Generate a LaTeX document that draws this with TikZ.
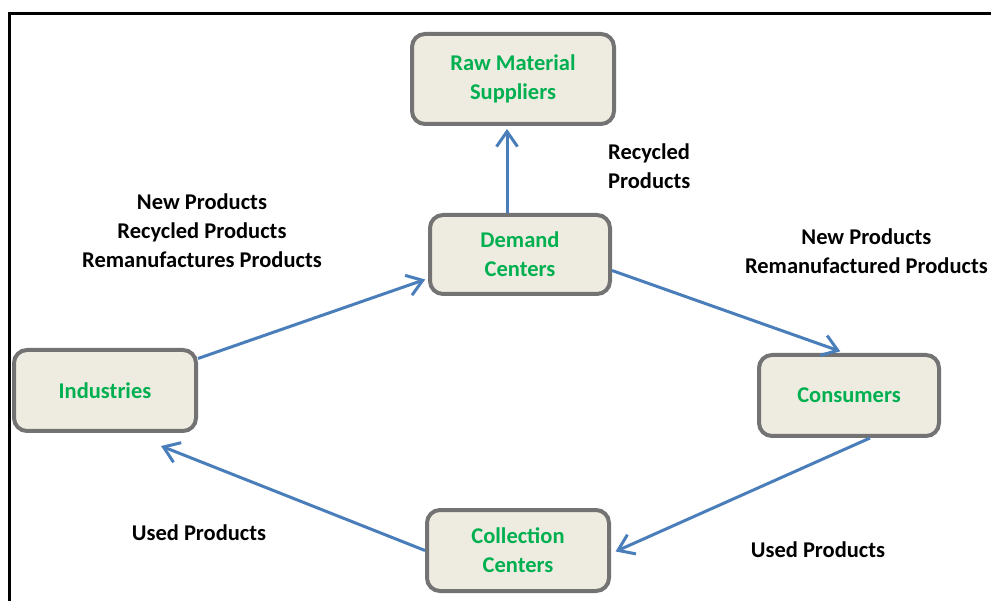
\documentclass[tikz,border=0pt]{standalone}
\usepackage{fontspec}
\setmainfont{Carlito}
\usetikzlibrary{arrows.meta,calc}
\definecolor{boxfill}{RGB}{238,236,225}
\definecolor{boxline}{RGB}{115,115,115}
\definecolor{grn}{RGB}{0,176,80}
\definecolor{arr}{RGB}{74,126,187}
\begin{document}
\begin{tikzpicture}[x=1pt,y=-1pt,
 box/.style={draw=boxline, line width=4pt, fill=boxfill, rounded corners=13pt, text=grn,
   font=\bfseries\fontsize{22.5}{29}\selectfont, align=center, inner sep=0pt},
 lbl/.style={font=\bfseries\fontsize{22.5}{29}\selectfont, align=center, text=black, inner sep=0pt},
 flow/.style={draw=arr, line width=3pt, -{Straight Barb[length=15pt,width=21pt]}},
 frame/.style={draw=black, line width=2.7pt}]
\path[use as bounding box] (0,0) rectangle (991,601);
\clip (0,0) rectangle (991,601);
\fill[white] (0,0) rectangle (991,601);
\draw[frame] (9.6,601) -- (9.6,13.3) -- (991,13.3);

\node[box, minimum width=202pt, minimum height=90pt] (raw) at (513,79) {Raw Material\\Suppliers};
\node[box, minimum width=180pt, minimum height=79pt] (dem) at (520,254.5) {Demand\\Centers};
\node[box, minimum width=182pt, minimum height=81pt] (ind) at (105,390.5) {Industries};
\node[box, minimum width=180pt, minimum height=81pt] (con) at (849,395.5) {Consumers};
\node[box, minimum width=182pt, minimum height=81pt] (col) at (518,550.5) {Collection\\Centers};

\node[lbl, align=left, anchor=west] (lrec) at (608,166) {Recycled\\Products};
\node[lbl] (lind) at (202,231) {New Products\\Recycled Products\\Remanufactures Products};
\node[lbl, anchor=east] (lcon) at (988,251.5) {New Products\\Remanufactured Products};
\node[lbl] (lu1) at (199,533) {Used Products};
\node[lbl] (lu2) at (818,550) {Used Products};

\coordinate (dr) at ([xshift=-13pt]dem.north);
\draw[flow, shorten >=3pt] (dr) -- (dr |- raw.south);
\draw[flow, shorten >=3pt] ([yshift=32pt]ind.east) -- ([yshift=-24pt]dem.west);
\draw[flow, shorten >=5pt] ([yshift=-16pt]dem.east) -- ([xshift=-4pt]con.north);
\draw[flow, shorten >=5pt] ([xshift=21pt]con.south) -- ([yshift=-3pt]col.east);
\draw[flow] (col.west) -- ([xshift=56pt,yshift=-13pt]ind.south);
\end{tikzpicture}
\end{document}
